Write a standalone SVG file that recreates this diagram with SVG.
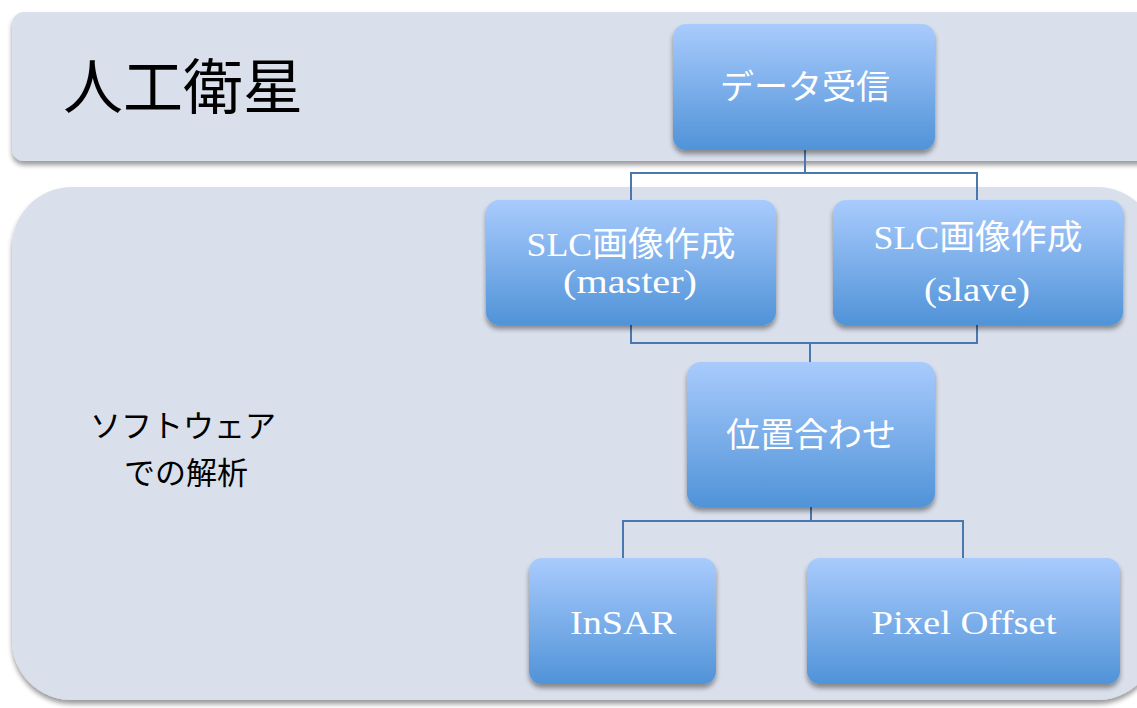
<svg xmlns="http://www.w3.org/2000/svg" width="1137" height="708" viewBox="0 0 1137 708">
<defs>
<linearGradient id="g" x1="0" y1="0" x2="0" y2="1">
<stop offset="0" stop-color="#a9cbfd"/>
<stop offset="1" stop-color="#5093d8"/>
</linearGradient>
<filter id="sh" x="-10%" y="-10%" width="120%" height="130%">
<feGaussianBlur in="SourceAlpha" stdDeviation="2.5"/>
<feOffset dx="0" dy="4" result="b"/>
<feComponentTransfer><feFuncA type="linear" slope="0.4"/></feComponentTransfer>
<feMerge><feMergeNode/><feMergeNode in="SourceGraphic"/></feMerge>
</filter>
</defs>
<style>
.panel{fill:#d9dfeb;filter:url(#sh)}
.node{fill:url(#g);filter:url(#sh)}
.nt{fill:#ffffff;font-family:"Liberation Serif","Noto Sans CJK JP",serif;font-size:34px;text-anchor:middle}
.lt{fill:#000000;font-family:"Liberation Serif","Noto Sans CJK JP",serif;text-anchor:middle}
.conn{fill:none;stroke:#4a78ad;stroke-width:2}
</style>
<rect width="1137" height="708" fill="#ffffff"/>
<g id="panel-satellite">
<rect class="panel" x="12" y="12" width="1140" height="149" rx="12"/>
<text class="lt" x="183" y="109" font-size="60">人工衛星</text>
</g>
<g id="panel-software">
<rect class="panel" x="12" y="187" width="1145" height="513" rx="60"/>
<text class="lt" x="183" y="437" font-size="31">ソフトウェア</text>
<text class="lt" x="186" y="484" font-size="31">での解析</text>
</g>
<g id="connectors">
<polyline class="conn" points="805,150 805,173 631,173 631,200"/>
<polyline class="conn" points="805,173 977,173 977,200"/>
<polyline class="conn" points="631,325 631,343 977,343 977,325"/>
<polyline class="conn" points="810,343 810,362"/>
<polyline class="conn" points="811,507 811,521 623,521 623,558"/>
<polyline class="conn" points="811,521 963,521 963,558"/>
</g>
<g id="node-receive">
<rect class="node" x="673" y="24" width="262" height="126" rx="13"/>
<text class="nt" x="805" y="99">データ受信</text>
</g>
<g id="node-slc-master">
<rect class="node" x="486" y="200" width="290" height="125" rx="13"/>
<text class="nt" x="631" y="256" textLength="209" lengthAdjust="spacingAndGlyphs">SLC画像作成</text>
<text class="nt" x="630" y="293" textLength="134" lengthAdjust="spacingAndGlyphs">(master)</text>
</g>
<g id="node-slc-slave">
<rect class="node" x="833" y="200" width="290" height="125" rx="13"/>
<text class="nt" x="978" y="249" textLength="209" lengthAdjust="spacingAndGlyphs">SLC画像作成</text>
<text class="nt" x="977" y="301" textLength="106" lengthAdjust="spacingAndGlyphs">(slave)</text>
</g>
<g id="node-align">
<rect class="node" x="687" y="362" width="248" height="145" rx="14"/>
<text class="nt" x="811" y="447">位置合わせ</text>
</g>
<g id="node-insar">
<rect class="node" x="529" y="558" width="187" height="126" rx="13"/>
<text class="nt" x="623" y="634" textLength="106" lengthAdjust="spacingAndGlyphs">InSAR</text>
</g>
<g id="node-pixeloffset">
<rect class="node" x="807" y="558" width="313" height="126" rx="13"/>
<text class="nt" x="964" y="634" textLength="185" lengthAdjust="spacingAndGlyphs">Pixel Offset</text>
</g>
</svg>
